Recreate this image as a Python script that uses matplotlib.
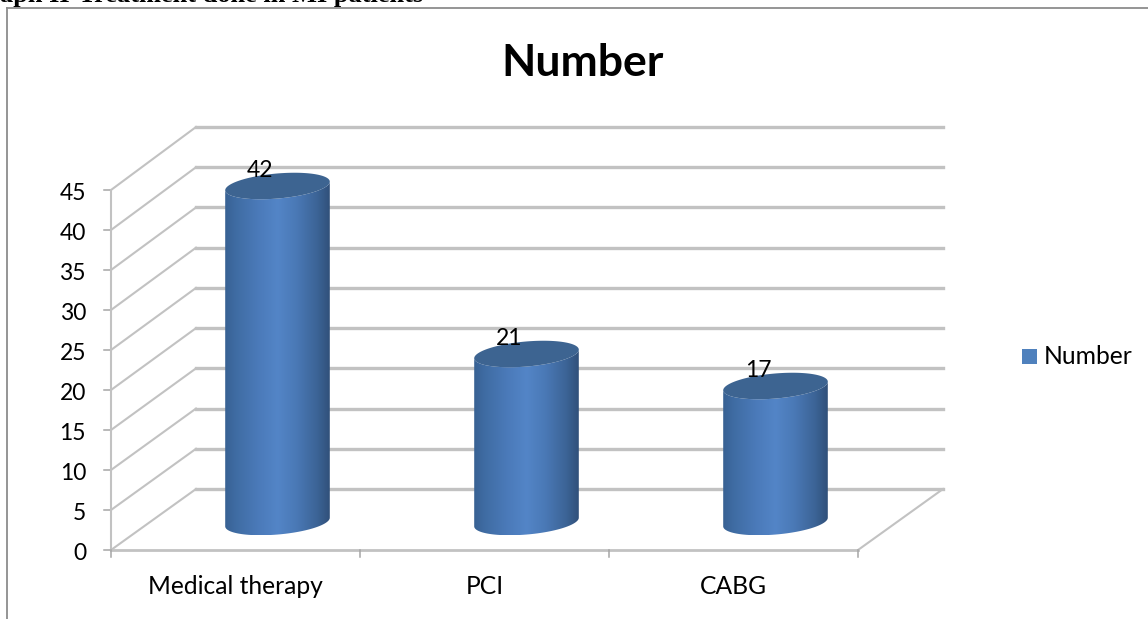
import numpy as np
import matplotlib
matplotlib.use('Agg')
import matplotlib.pyplot as plt
from matplotlib.patches import PathPatch, Polygon, Rectangle
from matplotlib.path import Path

categories = ['Medical therapy', 'PCI', 'CABG']
values = [42, 21, 17]
y_ticks = [0, 5, 10, 15, 20, 25, 30, 35, 40, 45]
series_name = 'Number'
caption = 'aph II-Treatment done in MI patients'

W, H = 1148, 619
GRID = '#c2c2c2'
AXIS = '#a6a6a6'
TOP = '#3d6491'

plt.rcParams['font.family'] = ['Lato', 'DejaVu Sans']

fig = plt.figure(figsize=(W / 100, H / 100), dpi=100)
ax = fig.add_axes([111 / W, (H - 550) / H, (858 - 111) / W, 360 / H])
ax.set_xlim(0, 3)
ax.set_ylim(0, 45)
ax.axis('off')

# sizes of one pixel in data units, the 3d look is all offsets from the front plane
px = 3 / 747
py = 45 / 360
depth_x = 85 * px
depth_y = 61 * py
back_scale = 362 / 360


def draw_walls():
    for v in y_ticks:
        back_y = v * back_scale + depth_y
        ax.plot([0, depth_x], [v, back_y], color=GRID, lw=1.5, clip_on=False, zorder=1)
        ax.plot([depth_x, 3 + depth_x], [back_y, back_y], color=GRID, lw=2.4, clip_on=False, zorder=1)
        ax.plot([-7 * px, 0], [v, v], color=AXIS, lw=1.1, clip_on=False, zorder=2)
    ax.plot([0, 0], [0, 45], color=GRID, lw=1.5, clip_on=False, zorder=2)
    ax.plot([0, 3], [0, 0], color=GRID, lw=2.0, clip_on=False, zorder=2)
    ax.plot([3, 3 + depth_x], [0, depth_y], color=GRID, lw=1.5, clip_on=False, zorder=1)
    for i in range(4):
        ax.plot([i, i], [0, -7 * py], color=AXIS, lw=1.1, clip_on=False, zorder=2)


def ellipse_points(cx, cy, t):
    # tilted ellipse, semi axes in pixels
    a, b, tilt = 52.5, 12.5, np.radians(5)
    ex = a * np.cos(t)
    ey = b * np.sin(t)
    return np.column_stack([
        cx + (ex * np.cos(tilt) - ey * np.sin(tilt)) * px,
        cy + (ex * np.sin(tilt) + ey * np.cos(tilt)) * py,
    ])


def draw_cylinder(cx, base, top):
    t_front = np.linspace(np.pi, 2 * np.pi, 60)
    lower = ellipse_points(cx, base, t_front)
    upper = ellipse_points(cx, top, t_front)[::-1]
    body = np.vstack([lower, upper, lower[:1]])
    clip = PathPatch(Path(body), transform=ax.transData, fc='none', ec='none', clip_on=False)
    ax.add_patch(clip)

    stops = np.array([0, 0.10, 0.30, 0.50, 0.68, 0.88, 1.0])
    reds = np.array([0x38, 0x3f, 0x4a, 0x53, 0x4a, 0x3c, 0x30])
    greens = np.array([0x61, 0x6c, 0x79, 0x85, 0x79, 0x64, 0x50])
    blues = np.array([0x93, 0xa3, 0xb8, 0xc7, 0xb6, 0x96, 0x7a])
    s = np.linspace(0, 1, 256)
    grad = np.stack([np.interp(s, stops, c) / 255 for c in (reds, greens, blues)], axis=-1)[None, :, :]
    x0, x1 = lower[:, 0].min(), lower[:, 0].max()
    y0, y1 = body[:, 1].min(), body[:, 1].max()
    im = ax.imshow(grad, extent=[x0, x1, y0, y1], aspect='auto', zorder=4, interpolation='bilinear')
    # the tallest bar pokes above ylim, so clip to the figure and not the axes
    im.set_clip_box(fig.bbox)
    im.set_clip_path(clip)
    lid = ellipse_points(cx, top, np.linspace(0, 2 * np.pi, 120))
    ax.add_patch(Polygon(lid, closed=True, fc=TOP, ec='none', zorder=5, clip_on=False))


draw_walls()

base_y = 28 * py
for i, val in enumerate(values):
    cx = i + 166.5 * px
    draw_cylinder(cx, base_y, base_y + val)
    ax.text(i + 149 * px, base_y + val + 4.6 * py, str(val), ha='center', va='bottom',
            fontsize=16.5, color='black', zorder=6, clip_on=False)
ax.set_xlim(0, 3)
ax.set_ylim(0, 45)

for v in y_ticks:
    ax.text(-25 * px, v - 3 * py, str(v), ha='right', va='center', fontsize=16.5, color='black', clip_on=False)
for i, name in enumerate(categories):
    ax.text(i + 0.5, -37 * py, name, ha='center', va='center', fontsize=17.7, color='black', clip_on=False)

fig.text(583 / W, 1 - 63 / H, series_name, ha='center', va='center', fontsize=32, fontweight='bold')

# legend swatch and label
fig.patches.append(Rectangle((1022 / W, 1 - 364 / H), 15 / W, 15 / H, transform=fig.transFigure,
                             fc='#4f81bd', ec='none'))
fig.text(1044 / W, 1 - 356 / H, series_name, ha='left', va='center', fontsize=17.7)

# chart frame, only left and top are visible in the crop
fig.add_artist(plt.Line2D([7 / W, 7 / W], [0, 1 - 8 / H], color='#8c8c8c', lw=1.3))
fig.add_artist(plt.Line2D([7 / W, 1], [1 - 8 / H, 1 - 8 / H], color='#8c8c8c', lw=1.3))

# the caption is cut by the top edge in the reference too
fig.text(0, 1 - 2 / H, caption, ha='left', va='baseline', fontsize=19, fontweight='bold',
         family=['Liberation Serif', 'DejaVu Serif'])

fig.savefig('out.png', dpi=100)
